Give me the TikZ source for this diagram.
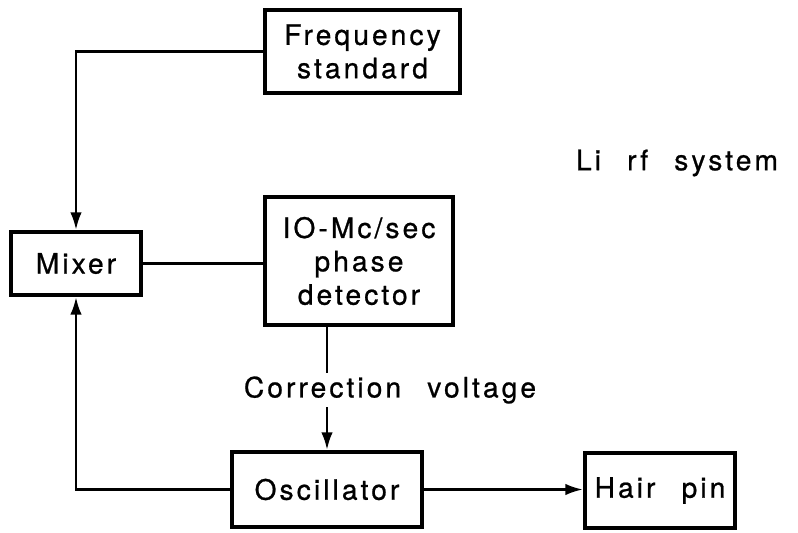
\documentclass[tikz,border=0pt]{standalone}
\usepackage{fontspec}
\setmainfont{TeX Gyre Heros}[LetterSpace=11, WordSpace=2.4, FakeBold=0.8]
\usepackage{tikz}
\usetikzlibrary{positioning, arrows.meta}

\begin{document}
\begin{tikzpicture}[x=0.02cm, y=-0.02cm, >={Latex[length=10pt, width=6.5pt]},
    block/.style={draw, line width=2.3pt, align=center, inner sep=0pt},
    link/.style={line width=1.5pt},
    every node/.style={font=\fontsize{16}{19}\selectfont}]
    \useasboundingbox (0,0) rectangle (798,533);
    % Blocks
    \node[block, minimum width=3.9cm, minimum height=1.66cm] (freq) at (362.5,51.5) {Frequency\\standard};
    \node[block, minimum width=2.6cm, minimum height=1.26cm] (mixer) at (76,263.5) {Mixer};
    \node[block, minimum width=3.76cm, minimum height=2.56cm] (phase) at (359,261) {IO-Mc/sec\\phase\\detector};
    \node[block, minimum width=3.8cm, minimum height=1.5cm] (osc) at (327,489.5) {Oscillator};
    \node[block, minimum width=3.0cm, minimum height=1.5cm] (hair) at (660,490.5) {Hair pin};
    % Title
    \node (title) at (677,163) {Li rf system};
    % Connectors
    \draw[link, ->] (freq.west) -| (mixer.north);
    \draw[link] (mixer.east) -- (mixer.east -| phase.west);
    \draw[link, ->] (osc.north |- phase.south) -- (osc.north);
    \draw[link, ->] (osc.west) -| (mixer.south);
    \draw[link, ->] (osc.east) -- (osc.east -| hair.west);
    % Label on the correction line
    \node[fill=white, inner sep=2pt] (corr) at (390,390) {Correction voltage};
\end{tikzpicture}
\end{document}
